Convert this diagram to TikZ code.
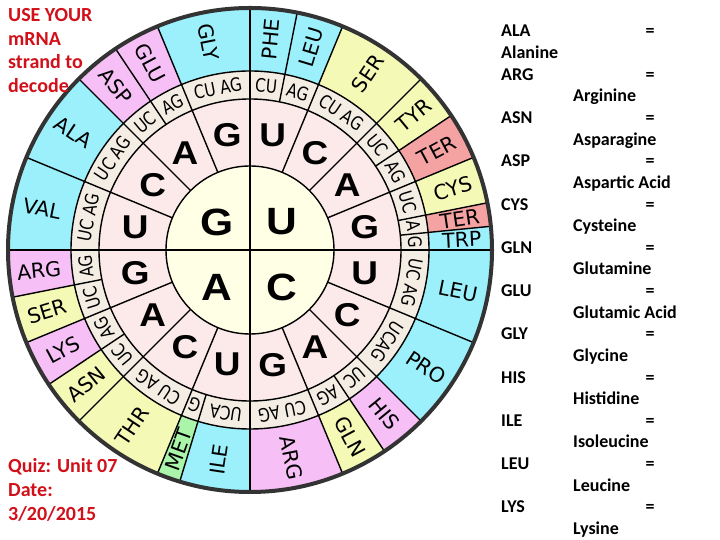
\documentclass[tikz,border=0pt]{standalone}
\usepackage{fontspec}
\setmainfont{Carlito}
\newfontfamily\aafont{DejaVu Sans}
\newfontfamily\ringfont[FakeStretch=0.82]{DejaVu Sans}
\newfontfamily\bigfont[FakeStretch=1.12]{Liberation Sans}
\definecolor{cyanA}{RGB}{155,240,252}
\definecolor{pinkA}{RGB}{246,192,246}
\definecolor{yelA}{RGB}{245,249,182}
\definecolor{redA}{RGB}{245,162,162}
\definecolor{grnA}{RGB}{170,245,170}
\definecolor{ringC}{RGB}{243,237,227}
\definecolor{midC}{RGB}{252,233,233}
\definecolor{innC}{RGB}{255,255,230}
\definecolor{quizred}{RGB}{210,16,26}
\tikzset{
  wline/.style={line width=1.4, black},
  rimline/.style={line width=4, black!80},
  aalabel/.style={font=\aafont\fontsize{20.5}{24}\selectfont, inner sep=0},
  ringlabel/.style={font=\ringfont\fontsize{18.5}{21}\selectfont, inner sep=0},
  midletter/.style={font=\bigfont\bfseries\fontsize{33}{36}\selectfont, inner sep=0},
  inletter/.style={font=\bigfont\bfseries\fontsize{38}{42}\selectfont, inner sep=0},
  legend/.style={font=\bfseries\fontsize{18}{21}\selectfont, inner sep=0},
  quiz/.style={font=\bfseries\fontsize{20}{24}\selectfont, text=quizred, inner sep=0, anchor=base west}
}
\begin{document}
\begin{tikzpicture}[x=1pt,y=1pt]
\useasboundingbox (0,0) rectangle (720,540);
\fill[white] (0,0) rectangle (720,540);
\def\rone{84}
\def\rtwo{151}
\def\rthree{179}
\def\R{242}
\begin{scope}[shift={(250,290)}]
  \fill[ringC] (0,0) circle[radius=\rthree];
  \fill[midC] (0,0) circle[radius=\rtwo];
  \fill[innC] (0,0) circle[radius=\rone];
  % amino acid sectors
  \foreach \ta/\tb/\col/\lab [count=\i] in {
    0/11.25/cyanA/PHE, 11.25/22.5/cyanA/LEU, 22.5/45/yelA/SER,
    45/56.25/yelA/TYR, 56.25/67.5/redA/TER, 67.5/78.75/yelA/CYS,
    78.75/84.375/redA/TER, 84.375/90/cyanA/TRP, 90/112.5/cyanA/LEU,
    112.5/135/cyanA/PRO, 135/146.25/pinkA/HIS, 146.25/157.5/yelA/GLN,
    157.5/180/pinkA/ARG, 180/196.875/cyanA/ILE, 196.875/202.5/grnA/MET,
    202.5/225/yelA/THR, 225/236.25/yelA/ASN, 236.25/247.5/pinkA/LYS,
    247.5/258.75/yelA/SER, 258.75/270/pinkA/ARG, 270/292.5/cyanA/VAL,
    292.5/315/cyanA/ALA, 315/326.25/pinkA/ASP, 326.25/337.5/pinkA/GLU,
    337.5/360/cyanA/GLY} {
    \pgfmathsetmacro\pa{90-\ta}
    \pgfmathsetmacro\pb{90-\tb}
    \pgfmathsetmacro\tm{(\ta+\tb)/2}
    \pgfmathsetmacro\rot{\tm<180 ? 90-\tm : 270-\tm}
    \fill[\col] (\pa:\rthree) -- (\pa:\R) arc[start angle=\pa, end angle=\pb, radius=\R]
      -- (\pb:\rthree) arc[start angle=\pb, end angle=\pa, radius=\rthree] -- cycle;
    \node[aalabel, rotate=\rot] (aa\i) at ({90-\tm}:212) {\lab};
  }
  % circles
  \draw[wline] (0,0) circle[radius=\rone];
  \draw[wline] (0,0) circle[radius=\rtwo];
  \draw[wline] (0,0) circle[radius=\rthree];
  % radial lines
  \foreach \t in {0,90,180,270}
    \draw[wline] (0,0) -- ({90-\t}:\R);
  \foreach \t in {22.5,45,67.5,112.5,135,157.5,202.5,225,247.5,292.5,315,337.5}
    \draw[wline] ({90-\t}:\rone) -- ({90-\t}:\R);
  \foreach \t in {11.25,56.25,78.75,84.375,146.25,196.875,236.25,258.75,326.25}
    \draw[wline] ({90-\t}:\rtwo) -- ({90-\t}:\R);
  \draw[rimline] (0,0) circle[radius=\R];
  % third-base ring
  \foreach \t/\s [count=\i] in {
    5.625/CU, 16.875/AG, 33.75/CU AG, 50.625/UC, 61.875/AG,
    73.125/UC, 81.5625/A, 87.1875/G, 101.25/UC AG, 123.75/UCAG,
    140.625/UC, 151.875/AG, 168.75/CU AG, 188.4375/UCA, 199.6875/G,
    213.75/CU AG, 230.625/UC, 241.875/AG, 253.125/UC, 264.375/AG,
    281.25/UC AG, 303.75/UC AG, 320.625/UC, 331.875/AG, 348.75/CU AG} {
    \node[ringlabel, rotate=-\t] (rl\i) at ({90-\t}:165) {\s};
  }
  % second-base ring
  \foreach \L [count=\i] in {U,C,A,G,U,C,A,G,U,C,A,G,U,C,A,G} {
    \node[midletter] (m\i) at ({90-(\i-1)*22.5-11.25}:117) {\L};
  }
  % first-base circle
  \node[inletter] (iG) at (-33,28) {G};
  \node[inletter] (iU) at (32,28) {U};
  \node[inletter] (iA) at (-33,-37) {A};
  \node[inletter] (iC) at (32,-37) {C};
\end{scope}
% red notes
\node[quiz] (q1) at (8,518) {USE YOUR};
\node[quiz] (q2) at (8,494.5) {mRNA};
\node[quiz] (q3) at (8,471) {strand to};
\node[quiz] (q4) at (8,447.5) {decode};
\node[quiz] (q5) at (8,67) {Quiz: Unit 07};
\node[quiz] (q6) at (8,43) {Date:};
\node[quiz] (q7) at (8,19) {3/20/2015};
% legend
\foreach \ab/\full [count=\i from 0] in {ALA/Alanine, ARG/Arginine, ASN/Asparagine,
  ASP/Aspartic Acid, CYS/Cysteine, GLN/Glutamine, GLU/Glutamic Acid, GLY/Glycine,
  HIS/Histidine, ILE/Isoleucine, LEU/Leucine, LYS/Lysine} {
  \pgfmathsetmacro\ya{540-37-2*\i*21.63}
  \pgfmathsetmacro\yb{\ya-21.63}
  \pgfmathsetmacro\xf{\i==0 ? 501 : 573}
  \node[legend, anchor=base west] (ab\i) at (501,\ya) {\ab};
  \node[legend, anchor=base] (eq\i) at (650,\ya) {=};
  \node[legend, anchor=base west] (fn\i) at (\xf,\yb) {\full};
}
\end{tikzpicture}
\end{document}
